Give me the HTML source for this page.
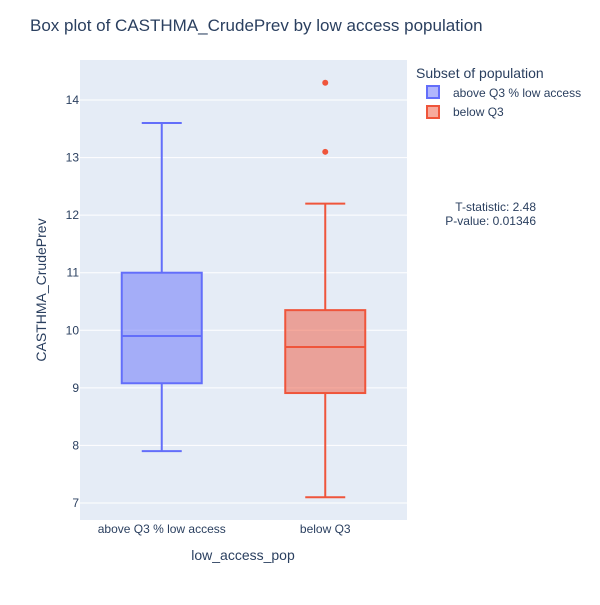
<!DOCTYPE html>
<html><head><meta charset="utf-8"><style>
body{margin:0;background:#fff;font-family:"Liberation Sans",Arial,sans-serif;}
svg text{font-family:"Liberation Sans",Arial,sans-serif;}
</style></head><body>
<svg id="chart" width="600" height="600" xmlns="http://www.w3.org/2000/svg">
<rect width="600" height="600" fill="#fff"/>
<text x="30" y="31" font-size="17" fill="#2a3f5f">Box plot of CASTHMA_CrudePrev by low access population</text>
<rect x="80" y="60" width="327" height="460" fill="#e5ecf6"/>
<g id="grid"></g>
<g id="marks"></g>
<text x="243" y="560" font-size="14" fill="#2a3f5f" text-anchor="middle">low_access_pop</text>
<text x="46" y="290" font-size="14" fill="#2a3f5f" text-anchor="middle" transform="rotate(-90 46 290)">CASTHMA_CrudePrev</text>
<text x="416" y="78" font-size="14" fill="#2a3f5f">Subset of population</text>
<g>
<rect x="427" y="86" width="12" height="12" fill="rgba(99,110,250,0.5)" stroke="#636efa" stroke-width="2"/>
<text x="453" y="97" font-size="12" fill="#2a3f5f">above Q3 % low access</text></g>
<g>
<rect x="427" y="106" width="12" height="12" fill="rgba(239,85,59,0.5)" stroke="#ef553b" stroke-width="2"/>
<text x="453" y="116" font-size="12" fill="#2a3f5f">below Q3</text></g>
<text x="536" y="211" font-size="12" fill="#2a3f5f" text-anchor="end">T-statistic: 2.48</text>
<text x="536" y="225" font-size="12" fill="#2a3f5f" text-anchor="end">P-value: 0.01346</text>
</svg>
<script>
const categories = ["above Q3 % low access", "below Q3"];
const lowerFences = [7.9, 7.1];
const q1Values = [9.08, 8.91];
const medians = [9.9, 9.71];
const q3Values = [11.0, 10.35];
const upperFences = [13.6, 12.2];
const outliers = [[], [14.3, 13.1]];
const yTicks = [7, 8, 9, 10, 11, 12, 13, 14];
const colors = ["#636efa", "#ef553b"];
const fills = ["rgba(99,110,250,0.5)", "rgba(239,85,59,0.5)"];

const NS = "http://www.w3.org/2000/svg";
const plotL = 80, plotR = 407;
const yScale = v => 503 - (v - 7) * (403 / 7);
const band = (plotR - plotL) / categories.length;
const xScale = i => plotL + band * (i + 0.5);
function mk(tag, attrs, parent) {
  const e = document.createElementNS(NS, tag);
  for (const k in attrs) e.setAttribute(k, attrs[k]);
  parent.appendChild(e); return e;
}
const grid = document.getElementById('grid');
const marks = document.getElementById('marks');
const svg = document.getElementById('chart');
yTicks.forEach(t => {
  const y = yScale(t);
  const l = mk('line', {x1: plotL, x2: plotR, y1: y, y2: y, stroke: '#fff', 'stroke-width': 1}, grid);
  
  
  const tx = mk('text', {x: 79 - 0, y: y + 4, 'font-size': 12, fill: '#2a3f5f', 'text-anchor': 'end'}, svg);
  tx.setAttribute('x', 79);
  tx.textContent = t;
  
  
});
categories.forEach((c, i) => {
  const cx = xScale(i), w = 80, hw = 40, ww = 20;
  const g = mk('g', {}, marks);
  
  
  const col = colors[i];
  mk('line', {x1: cx, x2: cx, y1: yScale(upperFences[i]), y2: yScale(q3Values[i]), stroke: col, 'stroke-width': 2}, g);
  mk('line', {x1: cx, x2: cx, y1: yScale(q1Values[i]), y2: yScale(lowerFences[i]), stroke: col, 'stroke-width': 2}, g);
  mk('line', {x1: cx - ww, x2: cx + ww, y1: yScale(upperFences[i]), y2: yScale(upperFences[i]), stroke: col, 'stroke-width': 2}, g);
  mk('line', {x1: cx - ww, x2: cx + ww, y1: yScale(lowerFences[i]), y2: yScale(lowerFences[i]), stroke: col, 'stroke-width': 2}, g);
  mk('rect', {x: cx - hw, y: yScale(q3Values[i]), width: w, height: yScale(q1Values[i]) - yScale(q3Values[i]), fill: fills[i], stroke: col, 'stroke-width': 2}, g);
  mk('line', {x1: cx - hw, x2: cx + hw, y1: yScale(medians[i]), y2: yScale(medians[i]), stroke: col, 'stroke-width': 2}, g);
  outliers[i].forEach(v => {
    const p = mk('circle', {cx: cx, cy: yScale(v), r: 3, fill: col}, g);
    
    
  });
  const tx = mk('text', {x: cx, y: 533, 'font-size': 12, fill: '#2a3f5f', 'text-anchor': 'middle'}, svg);
  tx.textContent = c;
  
  
});
</script>
</body></html>
